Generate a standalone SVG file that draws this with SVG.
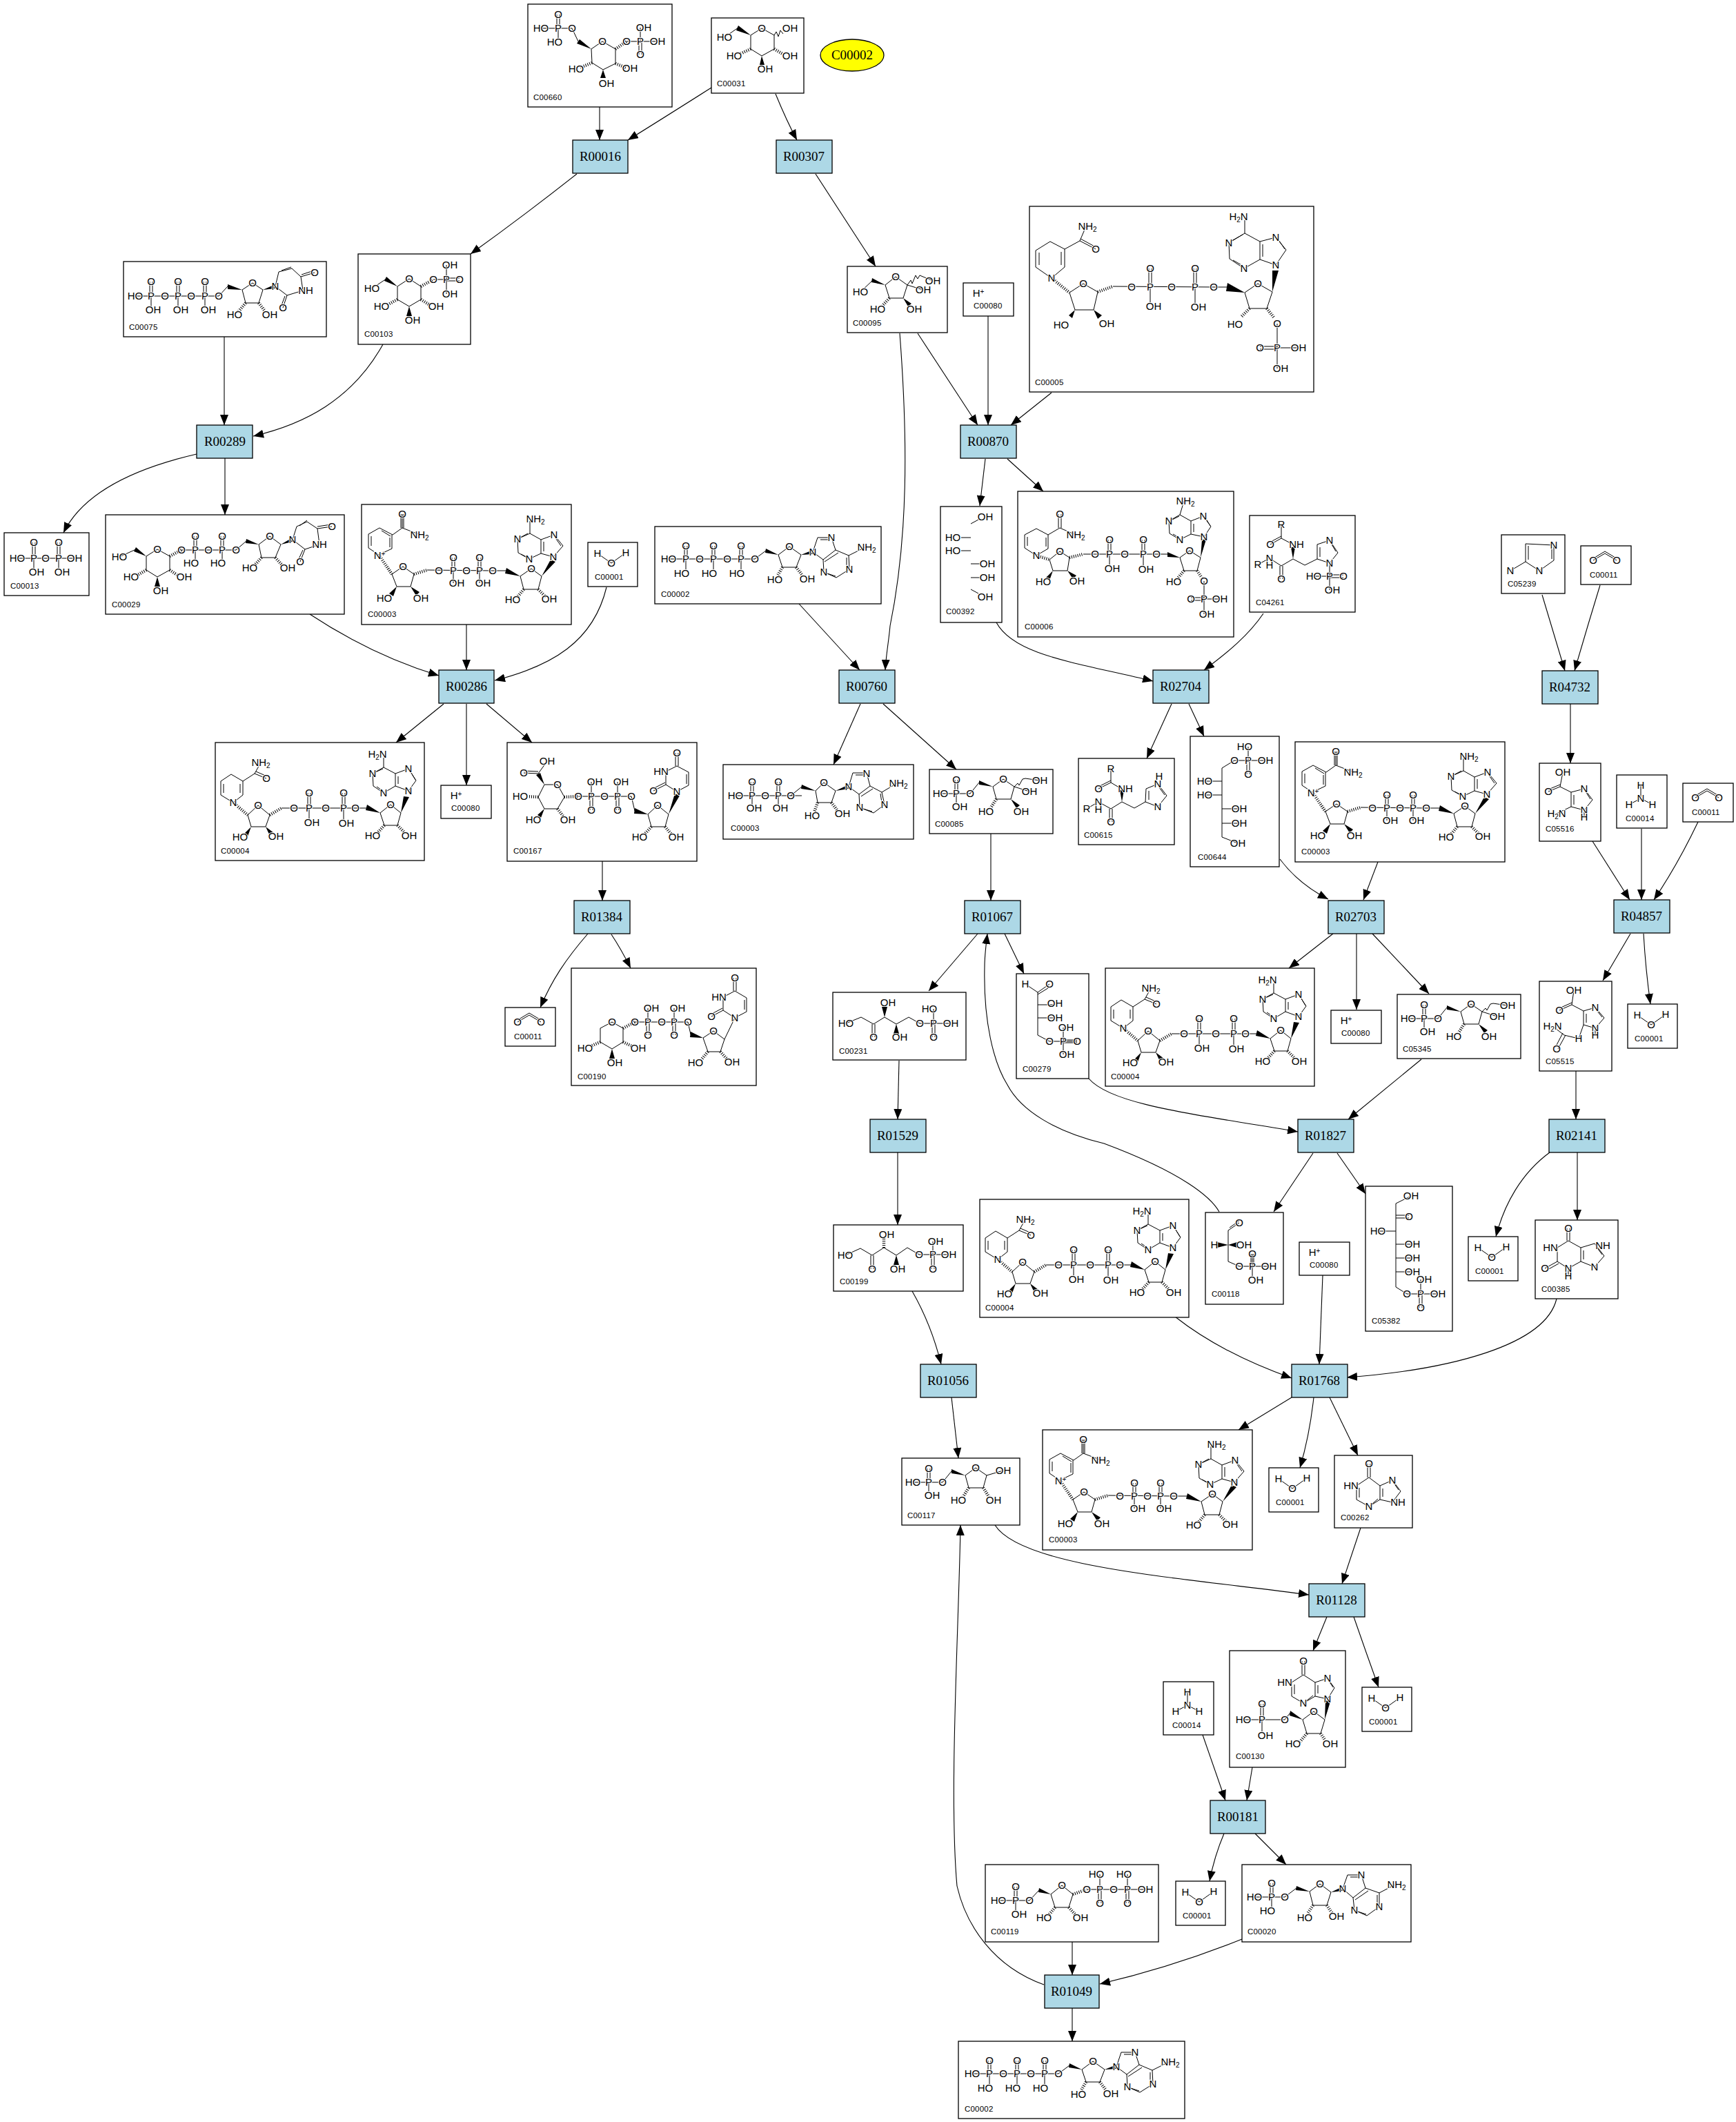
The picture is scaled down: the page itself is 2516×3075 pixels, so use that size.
<svg xmlns="http://www.w3.org/2000/svg" width="2516" height="3075" viewBox="0 0 2516 3075">
<style>
.c{fill:#fff;stroke:#000;stroke-width:1.3}
.r{fill:#add8e6;stroke:#000;stroke-width:1.3}
.rt{font:19px "Liberation Serif",serif;text-anchor:middle;fill:#000}
.b{fill:none;stroke:#000;stroke-width:1}
.w{fill:#000;stroke:none}
.h{fill:none;stroke:#000;stroke-width:4.5;stroke-dasharray:1 2}
.a{font:15px "Liberation Sans",Arial,sans-serif;text-anchor:middle;fill:#000;stroke:#fff;stroke-width:2px;paint-order:stroke}
.l{font:11.5px "Liberation Sans",Arial,sans-serif;fill:#000;letter-spacing:.2px}
.e{fill:none;stroke:#000;stroke-width:1.1;marker-end:url(#ah)}
.s{font-size:10px}
</style>
<defs>
<marker id="ah" markerUnits="userSpaceOnUse" markerWidth="15" markerHeight="12" refX="15" refY="6" orient="auto"><path d="M0 0L15 6L0 12Z" fill="#000"/></marker>
<g id="m1"><rect class="c" width="72" height="64"/><path class="b" d="M14 16L34 30L55 15"/><text class="a" x="14" y="21">H</text><text class="a" x="34" y="35">O</text><text class="a" x="55" y="20">H</text><text class="l" x="10" y="54">C00001</text></g>
<g id="m80"><rect class="c" width="73" height="48"/><text class="a" x="22" y="20">H<tspan class="s" dy="-4">+</tspan></text><text class="l" x="15" y="37">C00080</text></g>
<g id="m11"><rect class="c" width="73" height="56"/><path class="b" d="M18 21L35 11L52 21M20 17L35 8M50 17L35 8"/><text class="a" x="18" y="26">O</text><text class="a" x="52" y="26">O</text><text class="l" x="13" y="46">C00011</text></g>
<g id="m14"><rect class="c" width="73" height="77"/><path class="b" d="M35 15V34L18 43M35 34L52 43"/><text class="a" x="35" y="20">H</text><text class="a" x="35" y="39">N</text><text class="a" x="18" y="48">H</text><text class="a" x="52" y="48">H</text><text class="l" x="13" y="67">C00014</text></g>
<g id="m3"><rect class="c" width="304" height="174"/>
<path class="b" d="M59 14V34M57 14V34M61 14V34M59 34L85 44M59 34L45 44L26 34L10 43V63L25 73L44 64V44M14 46V60M41 48V62M29 38L42 46M44 101L60 90L76 101L71 119H51ZM95 95L190 96M131 77V96M135 77V96M133 96V114M169 77V96M173 77V96M171 96V114M190 96H210M230 104L246 93L261 104L256 123H235ZM278 76L292 60L279 44L260 51V71L278 76M260 71L243 79L227 70L226 50L244 42L260 51M244 42V24M264 54V68M282 50L289 60M231 72L241 77M230 48L241 42"/>
<path class="h" d="M25 73L44 101M76 101L95 95M235 123L226 134M256 123L267 134"/>
<path class="w" d="M51 119L40 129L46 133ZM71 119L79 132L84 127ZM230 104L210 92L208 100ZM261 104L274 80L281 83Z"/>
<text class="a" x="59" y="19">O</text><text class="a" x="84" y="49">NH<tspan class="s" dy="3">2</tspan></text><text class="a" x="26" y="79">N<tspan class="s" dy="-4">+</tspan></text><text class="a" x="60" y="95">O</text><text class="a" x="33" y="141">HO</text><text class="a" x="86" y="141">OH</text><text class="a" x="112" y="101">O</text><text class="a" x="133" y="101">P</text><text class="a" x="133" y="82">O</text><text class="a" x="138" y="119">OH</text><text class="a" x="152" y="101">O</text><text class="a" x="171" y="101">P</text><text class="a" x="171" y="82">O</text><text class="a" x="176" y="119">OH</text><text class="a" x="190" y="101">O</text><text class="a" x="246" y="98">O</text><text class="a" x="219" y="143">HO</text><text class="a" x="272" y="142">OH</text><text class="a" x="278" y="81">N</text><text class="a" x="279" y="49">N</text><text class="a" x="243" y="84">N</text><text class="a" x="226" y="55">N</text><text class="a" x="252" y="26">NH<tspan class="s" dy="3">2</tspan></text><text class="l" x="9" y="163">C00003</text></g>
<g id="m4"><rect class="c" width="303" height="171"/>
<path class="b" d="M66 29L57 45L74 52M59 42L75 49M57 45L40 56L23 46L8 56V76L26 87L40 76V56M12 60V73M36 60V73M47 105L62 91L79 105L73 122H52ZM96 95H203M134 73V95M138 73V95M136 95V112M184 73V95M188 73V95M186 95V112M203 95H219M239 102L254 90L269 102L264 120H245ZM280 70L291 55L280 38L261 45V63L280 70M261 63L244 73L229 63L228 45L244 36L261 45M244 36V22M265 49V60M284 44L290 54M234 64L243 70M232 43L243 38"/>
<path class="h" d="M26 87L47 105M79 105L96 95M245 120L235 131M264 120L275 131"/>
<path class="w" d="M52 122L42 132L47 136ZM73 122L79 135L85 131ZM239 102L220 90L218 98ZM269 102L273 78L281 79Z"/>
<text class="a" x="66" y="34">NH<tspan class="s" dy="3">2</tspan></text><text class="a" x="74" y="57">O</text><text class="a" x="26" y="92">N</text><text class="a" x="62" y="96">O</text><text class="a" x="36" y="142">HO</text><text class="a" x="88" y="141">OH</text><text class="a" x="114" y="100">O</text><text class="a" x="136" y="100">P</text><text class="a" x="136" y="78">O</text><text class="a" x="140" y="121">OH</text><text class="a" x="160" y="100">O</text><text class="a" x="186" y="100">P</text><text class="a" x="186" y="78">O</text><text class="a" x="190" y="122">OH</text><text class="a" x="203" y="100">O</text><text class="a" x="254" y="95">O</text><text class="a" x="228" y="140">HO</text><text class="a" x="281" y="140">OH</text><text class="a" x="280" y="75">N</text><text class="a" x="280" y="43">N</text><text class="a" x="244" y="78">N</text><text class="a" x="228" y="50">N</text><text class="a" x="235" y="22">H<tspan class="s" dy="3">2</tspan><tspan dy="-3">N</tspan></text><text class="l" x="8" y="161">C00004</text></g>
</defs>
<g id="connectors">
<path class="e" d="M869 155V203"/>
<path class="e" d="M1031 127Q960 172 910 203"/>
<path class="e" d="M1124 136Q1140 175 1155 203"/>
<path class="e" d="M836 252Q760 312 682 368"/>
<path class="e" d="M1182 252L1269 386"/>
<path class="e" d="M325 488V616"/>
<path class="e" d="M555 499C510 580 440 615 367 632"/>
<path class="e" d="M285 658C190 680 120 715 92 772"/>
<path class="e" d="M326 664V746"/>
<path class="e" d="M449 890Q540 950 636 979"/>
<path class="e" d="M676 905V971"/>
<path class="e" d="M879 851C860 930 800 965 717 986"/>
<path class="e" d="M643 1020L574 1076"/>
<path class="e" d="M676 1020V1138"/>
<path class="e" d="M705 1020L771 1076"/>
<path class="e" d="M873 1248V1305"/>
<path class="e" d="M852 1353C820 1390 800 1420 783 1460"/>
<path class="e" d="M886 1354Q900 1375 914 1403"/>
<path class="e" d="M1330 483L1417 616"/>
<path class="e" d="M1432 458V616"/>
<path class="e" d="M1524 569L1465 616"/>
<path class="e" d="M1304 483C1316 640 1316 780 1290 907C1288 930 1284 950 1283 971"/>
<path class="e" d="M1428 665L1420 733"/>
<path class="e" d="M1460 665L1512 712"/>
<path class="e" d="M1444 902C1470 950 1560 960 1671 987"/>
<path class="e" d="M1831 889C1810 920 1780 945 1745 971"/>
<path class="e" d="M1158 875L1246 971"/>
<path class="e" d="M1247 1020L1208 1108"/>
<path class="e" d="M1280 1020L1386 1115"/>
<path class="e" d="M1436 1208V1305"/>
<path class="e" d="M1417 1353L1346 1436"/>
<path class="e" d="M1456 1353L1484 1411"/>
<path class="e" d="M1767 1756C1755 1735 1715 1700 1600 1657C1530 1640 1480 1610 1460 1572C1440 1540 1425 1480 1427 1400C1427 1385 1429 1370 1431 1353"/>
<path class="e" d="M1303 1537L1301 1622"/>
<path class="e" d="M1301 1670V1775"/>
<path class="e" d="M1322 1871Q1350 1920 1364 1977"/>
<path class="e" d="M1379 2025L1389 2113"/>
<path class="e" d="M1442 2210C1480 2270 1700 2285 1897 2311"/>
<path class="e" d="M1513 2876C1440 2850 1400 2790 1387 2733C1375 2600 1390 2350 1392 2210"/>
<path class="e" d="M1855 1245C1870 1265 1890 1285 1925 1303"/>
<path class="e" d="M1997 1249L1976 1304"/>
<path class="e" d="M1932 1353L1868 1403"/>
<path class="e" d="M1966 1353V1463"/>
<path class="e" d="M1989 1353L2071 1440"/>
<path class="e" d="M2060 1535L1954 1622"/>
<path class="e" d="M1578 1563C1610 1600 1720 1613 1881 1640"/>
<path class="e" d="M1903 1671L1846 1756"/>
<path class="e" d="M1938 1671L1979 1730"/>
<path class="e" d="M2235 862L2268 972"/>
<path class="e" d="M2319 848Q2300 910 2282 972"/>
<path class="e" d="M2276 1020V1106"/>
<path class="e" d="M2308 1219L2362 1304"/>
<path class="e" d="M2379 1201V1304"/>
<path class="e" d="M2461 1191C2440 1235 2420 1270 2397 1304"/>
<path class="e" d="M2363 1353L2323 1421"/>
<path class="e" d="M2382 1353Q2385 1405 2392 1455"/>
<path class="e" d="M2284 1552V1622"/>
<path class="e" d="M2246 1670C2205 1700 2180 1745 2168 1792"/>
<path class="e" d="M2286 1670V1768"/>
<path class="e" d="M2256 1882C2240 1950 2100 1985 1952 1996"/>
<path class="e" d="M1917 1848Q1914 1920 1912 1977"/>
<path class="e" d="M1703 1908C1750 1945 1810 1975 1872 1997"/>
<path class="e" d="M1872 2025L1795 2072"/>
<path class="e" d="M1904 2025Q1898 2080 1884 2127"/>
<path class="e" d="M1927 2025L1968 2109"/>
<path class="e" d="M1972 2214L1945 2295"/>
<path class="e" d="M1923 2343L1903 2392"/>
<path class="e" d="M1962 2343Q1980 2395 1998 2445"/>
<path class="e" d="M1815 2561L1807 2609"/>
<path class="e" d="M1743 2514L1776 2609"/>
<path class="e" d="M1774 2657Q1760 2690 1753 2726"/>
<path class="e" d="M1819 2657L1864 2702"/>
<path class="e" d="M1554 2814V2862"/>
<path class="e" d="M1800 2810Q1700 2850 1594 2875"/>
<path class="e" d="M1554 2910V2958"/>
<path class="e" d="M1698 1020L1662 1099"/>
<path class="e" d="M1723 1020L1745 1067"/>
</g>
<g id="R00016"><rect class="r" x="830" y="203" width="80" height="48"/><text class="rt" x="870" y="233">R00016</text></g>
<g id="R00307"><rect class="r" x="1125" y="203" width="81" height="48"/><text class="rt" x="1165" y="233">R00307</text></g>
<g id="R00289"><rect class="r" x="285" y="616" width="81" height="48"/><text class="rt" x="326" y="646">R00289</text></g>
<g id="R00870"><rect class="r" x="1392" y="616" width="81" height="48"/><text class="rt" x="1432" y="646">R00870</text></g>
<g id="R00286"><rect class="r" x="636" y="971" width="80" height="48"/><text class="rt" x="676" y="1001">R00286</text></g>
<g id="R00760"><rect class="r" x="1216" y="971" width="81" height="48"/><text class="rt" x="1256" y="1001">R00760</text></g>
<g id="R02704"><rect class="r" x="1671" y="971" width="81" height="48"/><text class="rt" x="1711" y="1001">R02704</text></g>
<g id="R04732"><rect class="r" x="2235" y="972" width="81" height="48"/><text class="rt" x="2275" y="1002">R04732</text></g>
<g id="R01384"><rect class="r" x="832" y="1305" width="81" height="48"/><text class="rt" x="872" y="1335">R01384</text></g>
<g id="R01067"><rect class="r" x="1398" y="1305" width="81" height="48"/><text class="rt" x="1438" y="1335">R01067</text></g>
<g id="R02703"><rect class="r" x="1925" y="1305" width="81" height="48"/><text class="rt" x="1965" y="1335">R02703</text></g>
<g id="R04857"><rect class="r" x="2339" y="1304" width="81" height="48"/><text class="rt" x="2379" y="1334">R04857</text></g>
<g id="R01529"><rect class="r" x="1261" y="1622" width="81" height="48"/><text class="rt" x="1301" y="1652">R01529</text></g>
<g id="R01827"><rect class="r" x="1881" y="1622" width="81" height="48"/><text class="rt" x="1921" y="1652">R01827</text></g>
<g id="R02141"><rect class="r" x="2245" y="1622" width="81" height="48"/><text class="rt" x="2285" y="1652">R02141</text></g>
<g id="R01056"><rect class="r" x="1334" y="1977" width="81" height="48"/><text class="rt" x="1374" y="2007">R01056</text></g>
<g id="R01768"><rect class="r" x="1872" y="1977" width="81" height="48"/><text class="rt" x="1912" y="2007">R01768</text></g>
<g id="R01128"><rect class="r" x="1897" y="2295" width="81" height="48"/><text class="rt" x="1937" y="2325">R01128</text></g>
<g id="R00181"><rect class="r" x="1754" y="2609" width="80" height="48"/><text class="rt" x="1794" y="2639">R00181</text></g>
<g id="R01049"><rect class="r" x="1514" y="2862" width="79" height="48"/><text class="rt" x="1553" y="2892">R01049</text></g>
<g id="C00002-target"><ellipse cx="1235" cy="80" rx="46" ry="23" fill="#ff0" stroke="#000" stroke-width="1.3"/><text class="rt" x="1235" y="86">C00002</text></g>

<g id="C00660" transform="translate(765,6)"><rect class="c" width="209" height="149"/>
<path class="b" d="M42 15V35M46 15V35M19 35H64M44 35V52M64 35L73 54M92 65L108 54L127 65V86L109 95L93 85ZM143 54H188M163 54V34M161 54V73M165 54V73"/>
<path class="h" d="M127 65L143 54M93 85L76 92M127 86L142 92"/><path class="w" d="M92 65L75 51L71 57ZM109 95L105 107L113 107Z"/>
<text class="a" x="44" y="20">O</text><text class="a" x="44" y="40">P</text><text class="a" x="19" y="40">HO</text><text class="a" x="64" y="40">O</text><text class="a" x="39" y="60">HO</text><text class="a" x="108" y="59">O</text><text class="a" x="143" y="59">O</text><text class="a" x="163" y="59">P</text><text class="a" x="168" y="39">OH</text><text class="a" x="188" y="59">OH</text><text class="a" x="163" y="78">O</text><text class="a" x="70" y="99">HO</text><text class="a" x="148" y="98">OH</text><text class="a" x="114" y="120">OH</text><text class="l" x="8" y="139">C00660</text></g>

<g id="C00031" transform="translate(1031,26)"><rect class="c" width="134" height="109"/>
<path class="b" d="M19 28L39 14M57 25L73 15L91 25V45L73 55L57 45ZM91 25L94 20L97 27L100 18L104 23"/>
<path class="h" d="M57 45L42 52M91 45L103 52"/><path class="w" d="M57 25L39 11L36 18ZM73 55L70 68L77 68Z"/>
<text class="a" x="19" y="33">HO</text><text class="a" x="73" y="20">O</text><text class="a" x="114" y="20">OH</text><text class="a" x="33" y="60">HO</text><text class="a" x="114" y="60">OH</text><text class="a" x="78" y="79">OH</text><text class="l" x="8" y="99">C00031</text></g>

<g id="C00075" transform="translate(179,379)"><rect class="c" width="294" height="109"/>
<path class="b" d="M17 50H138M38 29V50M42 29V50M40 50V65M77 29V50M81 29V50M79 50V65M116 29V50M120 29V50M118 50V65M138 50L151 36M172 41L187 31L202 41L196 60H177ZM220 36L225 15L244 10L257 22L260 42L237 49L220 36M229 13L243 8M257 22L277 16M258 19L276 13M237 49L231 67M234 50L228 66"/>
<path class="h" d="M177 60L167 72M196 60L205 72"/><path class="w" d="M172 41L151 33L151 40ZM202 41L220 33L220 39Z"/>
<text class="a" x="17" y="55">HO</text><text class="a" x="40" y="55">P</text><text class="a" x="40" y="34">O</text><text class="a" x="43" y="75">OH</text><text class="a" x="60" y="55">O</text><text class="a" x="79" y="55">P</text><text class="a" x="79" y="34">O</text><text class="a" x="83" y="75">OH</text><text class="a" x="98" y="55">O</text><text class="a" x="118" y="55">P</text><text class="a" x="118" y="34">O</text><text class="a" x="123" y="75">OH</text><text class="a" x="138" y="55">O</text><text class="a" x="187" y="36">O</text><text class="a" x="161" y="82">HO</text><text class="a" x="212" y="82">OH</text><text class="a" x="220" y="41">N</text><text class="a" x="277" y="21">O</text><text class="a" x="264" y="47">NH</text><text class="a" x="231" y="72">O</text><text class="l" x="8" y="99">C00075</text></g>

<g id="C00103" transform="translate(519,368)"><rect class="c" width="163" height="131"/>
<path class="b" d="M20 50L41 36M57 47L74 36L91 47V66L74 76L57 66ZM109 37H128M128 37V16M128 37V58M128 35H147M128 39H147"/>
<path class="h" d="M91 47L109 37M57 66L42 74M91 66L104 74"/><path class="w" d="M57 47L41 33L38 39ZM74 76L70 90L78 90Z"/>
<text class="a" x="20" y="55">HO</text><text class="a" x="74" y="41">O</text><text class="a" x="34" y="81">HO</text><text class="a" x="113" y="81">OH</text><text class="a" x="79" y="101">OH</text><text class="a" x="109" y="42">O</text><text class="a" x="128" y="42">P</text><text class="a" x="133" y="21">OH</text><text class="a" x="147" y="42">O</text><text class="a" x="133" y="63">OH</text><text class="l" x="9" y="120">C00103</text></g>

<g id="C00095" transform="translate(1228,386)"><rect class="c" width="145" height="96"/>
<path class="b" d="M19 37L37 20M55 27L70 15L87 27L81 46H61ZM87 27L92 20L94 25L99 13L102 18L105 13L124 21M87 27L110 34"/>
<path class="h" d="M61 46L50 58"/><path class="w" d="M55 27L36 17L35 23ZM81 46L88 58L93 54Z"/>
<text class="a" x="19" y="42">HO</text><text class="a" x="70" y="20">O</text><text class="a" x="124" y="26">OH</text><text class="a" x="110" y="39">OH</text><text class="a" x="44" y="67">HO</text><text class="a" x="97" y="67">OH</text><text class="l" x="8" y="86">C00095</text></g>

<g id="C00080-1" transform="translate(1396,410)"><use href="#m80"/></g>

<g id="C00005" transform="translate(1492,299)"><rect class="c" width="412" height="269"/>
<path class="b" d="M82 29L73 50L96 62M74 47L96 59M73 50L51 62L30 51L9 64V88L32 104L51 88V62M14 67V85M46 66V85M58 125L78 112L99 124L93 150H66ZM121 116L267 117M173 117V90M177 117V90M175 117V140M238 117V90M242 117V90M240 117V140M267 117H287M312 125L331 112L352 124L344 148H319ZM359 170V235M359 205H390M359 203H334M359 207H334M357 85L372 63L357 45L334 51V77L357 85M334 77L311 90L290 76L289 53L312 39L334 51M312 39V20M338 55V73M362 50L370 62M295 78L309 86M293 50L309 41"/>
<path class="h" d="M32 104L58 125M99 124L121 116M319 148L307 160M344 148L355 162"/>
<path class="w" d="M66 150L57 158L62 162ZM93 150L99 163L105 158ZM312 125L287 111L285 123ZM352 124L352 93L361 93Z"/>
<text class="a" x="84" y="34">NH<tspan class="s" dy="3">2</tspan></text><text class="a" x="96" y="67">O</text><text class="a" x="32" y="109">N</text><text class="a" x="78" y="117">O</text><text class="a" x="46" y="177">HO</text><text class="a" x="112" y="175">OH</text><text class="a" x="148" y="122">O</text><text class="a" x="175" y="122">P</text><text class="a" x="175" y="95">O</text><text class="a" x="180" y="150">OH</text><text class="a" x="206" y="122">O</text><text class="a" x="240" y="122">P</text><text class="a" x="240" y="95">O</text><text class="a" x="245" y="151">OH</text><text class="a" x="267" y="122">O</text><text class="a" x="331" y="117">O</text><text class="a" x="298" y="176">HO</text><text class="a" x="359" y="175">O</text><text class="a" x="359" y="210">P</text><text class="a" x="334" y="210">O</text><text class="a" x="390" y="210">OH</text><text class="a" x="364" y="240">OH</text><text class="a" x="357" y="90">N</text><text class="a" x="357" y="50">N</text><text class="a" x="311" y="95">N</text><text class="a" x="289" y="58">N</text><text class="a" x="303" y="20">H<tspan class="s" dy="3">2</tspan><tspan dy="-3">N</tspan></text><text class="l" x="8" y="259">C00005</text></g>

<g id="C00013" transform="translate(6,772)"><rect class="c" width="123" height="91"/>
<path class="b" d="M19 37H102M41 14V37M45 14V37M43 37V52M77 14V37M81 14V37M79 37V52"/>
<text class="a" x="19" y="42">HO</text><text class="a" x="43" y="42">P</text><text class="a" x="43" y="19">O</text><text class="a" x="47" y="62">OH</text><text class="a" x="60" y="42">O</text><text class="a" x="79" y="42">P</text><text class="a" x="79" y="19">O</text><text class="a" x="102" y="42">OH</text><text class="a" x="84" y="62">OH</text><text class="l" x="9" y="81">C00013</text></g>

<g id="C00029" transform="translate(153,746)"><rect class="c" width="346" height="144"/>
<path class="b" d="M20 61L44 50M59 60L75 50L93 60V80L75 90L59 80ZM110 51H189M128 31V51M132 31V51M130 51V65M167 31V51M171 31V51M169 51V65M189 51L204 38M222 43L238 31L254 43L246 62H226ZM271 36L277 17L292 10L307 20L310 43L289 50L271 36M281 16L292 8M307 20L328 17M307 17L327 14M289 50L282 68M286 51L279 66"/>
<path class="h" d="M93 60L110 51M59 80L45 88M93 80L105 88M226 62L216 73M246 62L256 73"/>
<path class="w" d="M59 60L44 47L41 53ZM75 90L71 104L79 104ZM222 43L204 35L203 41ZM254 43L271 33L271 39Z"/>
<text class="a" x="20" y="66">HO</text><text class="a" x="75" y="55">O</text><text class="a" x="37" y="95">HO</text><text class="a" x="114" y="95">OH</text><text class="a" x="80" y="115">OH</text><text class="a" x="110" y="56">O</text><text class="a" x="130" y="56">P</text><text class="a" x="130" y="36">O</text><text class="a" x="124" y="75">HO</text><text class="a" x="149" y="56">O</text><text class="a" x="169" y="56">P</text><text class="a" x="169" y="36">O</text><text class="a" x="163" y="75">HO</text><text class="a" x="189" y="56">O</text><text class="a" x="238" y="36">O</text><text class="a" x="209" y="82">HO</text><text class="a" x="264" y="82">OH</text><text class="a" x="271" y="41">N</text><text class="a" x="328" y="22">O</text><text class="a" x="310" y="48">NH</text><text class="a" x="282" y="73">O</text><text class="l" x="9" y="134">C00029</text></g>

<g id="C00003-1" transform="translate(524,731)"><use href="#m3"/></g>
<g id="C00001-1" transform="translate(852,786)"><use href="#m1"/></g>
<g id="C00004-1" transform="translate(312,1076)"><use href="#m4"/></g>
<g id="C00080-2" transform="translate(639,1138)"><use href="#m80"/></g>

<g id="C00167" transform="translate(735,1076)"><rect class="c" width="275" height="172"/>
<path class="b" d="M58 27L45 45L24 44M45 42L24 41M54 61L73 61L83 79L73 96H54L45 79ZM103 78H180M120 78V98M124 78V98M122 78V57M158 78V98M162 78V98M160 78V57M180 78L185 99M204 104L218 91L234 104L229 122H209ZM246 71L230 61L212 70M229 58L211 67M230 61V42M230 42L246 34L263 43V62L246 71M244 34V15M248 34V15M260 46V60"/>
<path class="h" d="M83 79L103 78M45 79L28 78M73 96L82 108M209 122L199 133M229 122L238 133"/>
<path class="w" d="M54 61L42 47L48 44ZM54 96L44 105L49 109ZM204 104L185 95L184 103ZM234 104L243 74L250 77Z"/>
<text class="a" x="58" y="32">OH</text><text class="a" x="24" y="49">O</text><text class="a" x="73" y="66">O</text><text class="a" x="19" y="83">HO</text><text class="a" x="38" y="117">HO</text><text class="a" x="88" y="117">OH</text><text class="a" x="103" y="83">O</text><text class="a" x="122" y="83">P</text><text class="a" x="127" y="62">OH</text><text class="a" x="122" y="103">O</text><text class="a" x="141" y="83">O</text><text class="a" x="160" y="83">P</text><text class="a" x="165" y="62">OH</text><text class="a" x="160" y="103">O</text><text class="a" x="180" y="83">O</text><text class="a" x="218" y="96">O</text><text class="a" x="192" y="142">HO</text><text class="a" x="245" y="142">OH</text><text class="a" x="246" y="76">N</text><text class="a" x="212" y="75">O</text><text class="a" x="223" y="47">HN</text><text class="a" x="246" y="20">O</text><text class="l" x="9" y="161">C00167</text></g>

<g id="C00002" transform="translate(949,763)"><rect class="c" width="328" height="112"/>
<path class="b" d="M20 47H145M43 28V47M47 28V47M45 47V63M83 28V47M87 28V47M85 47V63M123 28V47M127 28V47M125 47V63M145 47L161 35M179 41L195 29L212 41L205 59H185ZM229 37L236 16H256L262 34L244 48L229 37M244 48L245 66L263 74L282 62L281 42L262 34M240 19H254M266 38L246 51M250 68L262 72M278 59V45M281 42L305 30"/>
<path class="h" d="M185 59L178 71M205 59L214 71"/><path class="w" d="M179 41L161 32L160 38ZM212 41L229 34L229 40Z"/>
<text class="a" x="20" y="52">HO</text><text class="a" x="45" y="52">P</text><text class="a" x="45" y="33">O</text><text class="a" x="39" y="73">HO</text><text class="a" x="65" y="52">O</text><text class="a" x="85" y="52">P</text><text class="a" x="85" y="33">O</text><text class="a" x="79" y="73">HO</text><text class="a" x="105" y="52">O</text><text class="a" x="125" y="52">P</text><text class="a" x="125" y="33">O</text><text class="a" x="119" y="73">HO</text><text class="a" x="145" y="52">O</text><text class="a" x="195" y="34">O</text><text class="a" x="174" y="82">HO</text><text class="a" x="221" y="81">OH</text><text class="a" x="229" y="42">N</text><text class="a" x="256" y="21">N</text><text class="a" x="245" y="71">N</text><text class="a" x="282" y="67">N</text><text class="a" x="307" y="35">NH<tspan class="s" dy="3">2</tspan></text><text class="l" x="9" y="102">C00002</text></g>

<g id="C00392" transform="translate(1363,734)"><rect class="c" width="89" height="168"/>
<path class="b" d="M44 25L55 19M30 45H44M30 64H44M44 83H57M44 103H57M44 120L55 126"/>
<text class="a" x="65" y="20">OH</text><text class="a" x="18" y="50">HO</text><text class="a" x="18" y="69">HO</text><text class="a" x="68" y="88">OH</text><text class="a" x="68" y="108">OH</text><text class="a" x="65" y="136">OH</text><text class="l" x="8" y="156">C00392</text></g>

<g id="C00006" transform="translate(1475,712)"><rect class="c" width="313" height="211"/>
<path class="b" d="M59 33V53M63 33V53M61 53L84 63M61 53L44 63L27 54L10 63V82L27 93L44 83V63M14 66V79M41 67V80M46 99L61 87L75 96L72 115H51ZM95 91H217M131 70V91M135 70V91M133 91V108M180 70V91M184 70V91M182 91V108M235 96L249 86L265 96L260 115H241ZM270 130V178M270 156H293M270 154H251M270 158H251M270 66L280 51L269 36L251 43V62L270 66M251 62L235 70L220 61L219 43L235 34L251 43M235 34L241 14M255 47V59M273 40L279 50M225 62L234 67M224 41L234 36"/>
<path class="h" d="M27 93L46 99M75 96L95 91M241 115L231 127M260 115L268 127"/>
<path class="w" d="M51 115L41 125L46 129ZM72 115L80 127L85 122ZM235 96L217 88L217 95ZM265 96L267 70L273 70Z"/>
<text class="a" x="61" y="38">O</text><text class="a" x="84" y="68">NH<tspan class="s" dy="3">2</tspan></text><text class="a" x="27" y="98">N</text><text class="a" x="61" y="92">O</text><text class="a" x="37" y="136">HO</text><text class="a" x="86" y="135">OH</text><text class="a" x="112" y="96">O</text><text class="a" x="133" y="96">P</text><text class="a" x="133" y="75">O</text><text class="a" x="137" y="117">OH</text><text class="a" x="155" y="96">O</text><text class="a" x="182" y="96">P</text><text class="a" x="182" y="75">O</text><text class="a" x="186" y="118">OH</text><text class="a" x="201" y="96">O</text><text class="a" x="249" y="91">O</text><text class="a" x="226" y="136">HO</text><text class="a" x="270" y="135">O</text><text class="a" x="270" y="161">P</text><text class="a" x="251" y="161">O</text><text class="a" x="293" y="161">OH</text><text class="a" x="274" y="183">OH</text><text class="a" x="270" y="71">N</text><text class="a" x="269" y="41">N</text><text class="a" x="235" y="75">N</text><text class="a" x="219" y="48">N</text><text class="a" x="243" y="19">NH<tspan class="s" dy="3">2</tspan></text><text class="l" x="10" y="200">C00006</text></g>

<g id="C04261" transform="translate(1811,747)"><rect class="c" width="153" height="140"/>
<path class="b" d="M46 13V33L30 42M46 30L29 39M46 33L63 42M63 63L46 73M44 73V92M48 73V92M46 73L29 62M29 62L12 71M63 63L80 72L98 63V42L116 36L128 54L116 69L98 63M102 46V60M118 40L125 52M116 69V108M93 88H116M116 86H136M116 90H136"/>
<path class="w" d="M63 63L60 46L66 46Z"/>
<text class="a" x="46" y="18">R</text><text class="a" x="30" y="47">O</text><text class="a" x="68" y="47">NH</text><text class="a" x="46" y="97">O</text><text class="a" x="29" y="67">N</text><text class="a" x="29" y="77">H</text><text class="a" x="12" y="76">R</text><text class="a" x="116" y="41">N</text><text class="a" x="116" y="74">N</text><text class="a" x="116" y="93">P</text><text class="a" x="93" y="93">HO</text><text class="a" x="136" y="93">O</text><text class="a" x="120" y="113">OH</text><text class="l" x="9" y="130">C04261</text></g>

<g id="C05239" transform="translate(2176,775)"><rect class="c" width="92" height="85"/>
<path class="b" d="M13 52L35 39V13L76 15V37L55 52L35 39M39 36V16M73 18V35"/>
<text class="a" x="13" y="57">N</text><text class="a" x="76" y="20">N</text><text class="a" x="55" y="57">N</text><text class="l" x="9" y="75">C05239</text></g>
<g id="C00011-1" transform="translate(2291,791)"><use href="#m11"/></g>

<g id="C00008" transform="translate(1048,1108)"><rect class="c" width="276" height="108"/>
<path class="b" d="M18 45H114M40 25V45M44 25V45M42 45V58M78 25V45M82 25V45M80 45V58M98 45L114 32M134 38L146 26L163 38L157 55H137ZM182 32L188 12H208L213 31L197 43L182 32M197 43L198 62L218 70L234 58L230 40L213 31M192 15H206M217 35L200 46M203 64L216 68M230 55L228 42M230 40L252 27"/>
<path class="h" d="M137 55L132 69M157 55L166 67"/><path class="w" d="M134 38L114 29L113 35ZM163 38L182 29L182 35Z"/>
<text class="a" x="18" y="50">HO</text><text class="a" x="42" y="50">P</text><text class="a" x="42" y="30">O</text><text class="a" x="45" y="68">OH</text><text class="a" x="61" y="50">O</text><text class="a" x="80" y="50">P</text><text class="a" x="80" y="30">O</text><text class="a" x="83" y="68">OH</text><text class="a" x="98" y="50">O</text><text class="a" x="146" y="31">O</text><text class="a" x="129" y="79">HO</text><text class="a" x="173" y="76">OH</text><text class="a" x="182" y="37">N</text><text class="a" x="208" y="18">N</text><text class="a" x="198" y="67">N</text><text class="a" x="234" y="63">N</text><text class="a" x="254" y="32">NH<tspan class="s" dy="3">2</tspan></text><text class="l" x="11" y="96">C00003</text></g>

<g id="C00085" transform="translate(1347,1115)"><rect class="c" width="179" height="93"/>
<path class="b" d="M37 15V35M41 15V35M16 35H59M39 35V49M59 35L72 19M92 25L107 14L123 25L118 43H97ZM123 25L128 20L130 23L135 14L139 13L160 16M123 25L145 32"/>
<path class="h" d="M97 43L88 57"/><path class="w" d="M92 25L72 16L72 22ZM118 43L126 56L131 52Z"/>
<text class="a" x="39" y="20">O</text><text class="a" x="39" y="40">P</text><text class="a" x="16" y="40">HO</text><text class="a" x="44" y="59">OH</text><text class="a" x="59" y="40">O</text><text class="a" x="107" y="19">O</text><text class="a" x="160" y="21">OH</text><text class="a" x="145" y="37">OH</text><text class="a" x="82" y="66">HO</text><text class="a" x="133" y="66">OH</text><text class="l" x="8" y="83">C00085</text></g>

<g id="C00615" transform="translate(1563,1099)"><rect class="c" width="139" height="125"/>
<path class="b" d="M47 15V35L29 44M47 32L29 41M47 35L62 44M63 63L47 73M45 73V92M49 73V92M47 73L29 63L12 73M63 63L81 72L97 63L98 44L115 37L128 54L115 70L97 63M102 47V60M117 42L125 53"/>
<path class="w" d="M63 63L60 46L66 46Z"/>
<text class="a" x="47" y="20">R</text><text class="a" x="29" y="49">O</text><text class="a" x="68" y="49">NH</text><text class="a" x="47" y="97">O</text><text class="a" x="29" y="68">N</text><text class="a" x="29" y="79">H</text><text class="a" x="12" y="78">R</text><text class="a" x="115" y="42">N</text><text class="a" x="117" y="31">H</text><text class="a" x="115" y="75">N</text><text class="l" x="8" y="115">C00615</text></g>

<g id="C00644" transform="translate(1725,1067)"><rect class="c" width="129" height="189"/>
<path class="b" d="M64 35H109M84 35V15M82 35V55M86 35V55M64 35L46 46V146L69 155M21 65H46M21 85H46M46 105H71M46 126H71"/>
<text class="a" x="79" y="20">HO</text><text class="a" x="84" y="40">P</text><text class="a" x="64" y="40">O</text><text class="a" x="109" y="40">OH</text><text class="a" x="84" y="60">O</text><text class="a" x="21" y="70">HO</text><text class="a" x="21" y="90">HO</text><text class="a" x="71" y="110">OH</text><text class="a" x="71" y="131">OH</text><text class="a" x="69" y="160">OH</text><text class="l" x="11" y="179">C00644</text></g>

<g id="C00003-2" transform="translate(1877,1075)"><use href="#m3"/></g>
<g id="C05516" transform="translate(2231,1106)"><rect class="c" width="89" height="113"/>
<path class="b" d="M34 13L30 34L13 41M30 31L13 38M30 34L46 42L65 37L77 53L65 68L46 63V42M50 46V60M67 41L74 52M46 63L25 73M65 68V78"/>
<text class="a" x="34" y="18">OH</text><text class="a" x="13" y="46">O</text><text class="a" x="65" y="42">N</text><text class="a" x="65" y="73">N</text><text class="a" x="65" y="83">H</text><text class="a" x="25" y="78">H<tspan class="s" dy="3">2</tspan><tspan dy="-3">N</tspan></text><text class="l" x="9" y="99">C05516</text></g>
<g id="C00014-1" transform="translate(2343,1123)"><use href="#m14"/></g>
<g id="C00011-2" transform="translate(2439,1135)"><use href="#m11"/></g>

<g id="C00011-3" transform="translate(732,1460)"><use href="#m11"/></g>
<g id="C00190" transform="translate(828,1403)"><rect class="c" width="268" height="170"/>
<path class="b" d="M59 78L75 87V107L59 117L42 107V87ZM92 78H169M109 78V97M113 78V97M111 78V58M147 78V97M151 78V97M149 78V58M169 78L173 96M191 101L206 91L222 103L216 121H198ZM237 72L222 103M237 72L220 61L203 70M219 58L202 67M220 61V42M220 42L237 33L254 43V63L237 72M235 33V14M239 33V14M251 46V60"/>
<path class="h" d="M75 87L92 78M42 107L28 113M75 107L88 113M198 121L188 133M216 121L226 132"/>
<path class="w" d="M59 117L55 131L63 131ZM191 101L173 92L172 100Z"/>
<text class="a" x="59" y="83">O</text><text class="a" x="20" y="121">HO</text><text class="a" x="97" y="121">OH</text><text class="a" x="63" y="142">OH</text><text class="a" x="92" y="83">O</text><text class="a" x="111" y="83">P</text><text class="a" x="116" y="63">OH</text><text class="a" x="111" y="102">O</text><text class="a" x="131" y="83">O</text><text class="a" x="149" y="83">P</text><text class="a" x="154" y="63">OH</text><text class="a" x="149" y="102">O</text><text class="a" x="169" y="83">O</text><text class="a" x="206" y="96">O</text><text class="a" x="180" y="142">HO</text><text class="a" x="233" y="141">OH</text><text class="a" x="237" y="77">N</text><text class="a" x="203" y="75">O</text><text class="a" x="214" y="47">HN</text><text class="a" x="237" y="19">O</text><text class="l" x="9" y="161">C00190</text></g>

<g id="C00231" transform="translate(1207,1438)"><rect class="c" width="193" height="98"/>
<path class="b" d="M19 45L41 36L59 46L75 36L92 46L110 36L126 45H171M57 46V65M61 46V65M146 45V24M144 45V65M148 45V65"/>
<path class="w" d="M75 36L71 21L79 21ZM92 46L88 60L96 60Z"/>
<text class="a" x="19" y="50">HO</text><text class="a" x="59" y="70">O</text><text class="a" x="80" y="20">OH</text><text class="a" x="97" y="70">OH</text><text class="a" x="126" y="50">O</text><text class="a" x="146" y="50">P</text><text class="a" x="140" y="29">HO</text><text class="a" x="171" y="50">OH</text><text class="a" x="146" y="70">O</text><text class="l" x="9" y="89">C00231</text></g>

<g id="C00279" transform="translate(1473,1411)"><rect class="c" width="105" height="152"/>
<path class="b" d="M13 15L31 27L48 15M31 30L49 19M31 27V89L48 98H88M31 45H56M31 64H56M68 98V78M68 96H88M68 100H88M68 98V117"/>
<text class="a" x="13" y="20">H</text><text class="a" x="48" y="20">O</text><text class="a" x="56" y="48">OH</text><text class="a" x="56" y="69">OH</text><text class="a" x="48" y="103">O</text><text class="a" x="68" y="103">P</text><text class="a" x="72" y="83">OH</text><text class="a" x="88" y="103">O</text><text class="a" x="73" y="122">OH</text><text class="l" x="9" y="142">C00279</text></g>

<g id="C00004-2" transform="translate(1602,1403)"><use href="#m4"/></g>
<g id="C00080-3" transform="translate(1929,1464)"><use href="#m80"/></g>
<g id="C05345" transform="translate(2025,1441)"><rect class="c" width="179" height="93"/>
<path class="b" d="M37 15V35M41 15V35M16 35H59M39 35V49M59 35L72 19M92 25L107 14L123 25L118 43H97ZM123 25L128 20L130 23L135 14L139 13L160 16M123 25L145 32"/>
<path class="h" d="M97 43L88 57"/><path class="w" d="M92 25L72 16L72 22ZM118 43L126 56L131 52Z"/>
<text class="a" x="39" y="20">O</text><text class="a" x="39" y="40">P</text><text class="a" x="16" y="40">HO</text><text class="a" x="44" y="59">OH</text><text class="a" x="59" y="40">O</text><text class="a" x="107" y="19">O</text><text class="a" x="160" y="21">OH</text><text class="a" x="145" y="37">OH</text><text class="a" x="82" y="66">HO</text><text class="a" x="133" y="66">OH</text><text class="l" x="8" y="83">C05345</text></g>
<g id="C05515" transform="translate(2231,1422)"><rect class="c" width="105" height="130"/>
<path class="b" d="M50 13L47 34L29 42M47 31L29 39M47 34L64 43L81 38L94 53L81 68L64 63V43M68 47V60M83 42L91 52M64 63L57 83L36 78L19 65M34 75L23 96M38 78L27 98M81 68V78"/>
<text class="a" x="50" y="18">OH</text><text class="a" x="29" y="47">O</text><text class="a" x="81" y="43">N</text><text class="a" x="81" y="73">N</text><text class="a" x="81" y="83">H</text><text class="a" x="57" y="88">H</text><text class="a" x="19" y="70">H<tspan class="s" dy="3">2</tspan><tspan dy="-3">N</tspan></text><text class="a" x="25" y="103">O</text><text class="l" x="9" y="120">C05515</text></g>
<g id="C00001-2" transform="translate(2359,1455)"><use href="#m1"/></g>

<g id="C00199" transform="translate(1208,1775)"><rect class="c" width="188" height="96"/>
<path class="b" d="M17 44L39 34L56 44L73 33L91 44L107 33L124 43H167M54 44V64M58 44V64M144 43V24M142 43V64M146 43V64"/>
<path class="h" d="M73 33V20"/><path class="w" d="M91 44L87 58L95 58Z"/>
<text class="a" x="17" y="49">HO</text><text class="a" x="56" y="69">O</text><text class="a" x="77" y="19">OH</text><text class="a" x="93" y="69">OH</text><text class="a" x="124" y="48">O</text><text class="a" x="144" y="48">P</text><text class="a" x="148" y="29">OH</text><text class="a" x="167" y="48">OH</text><text class="a" x="144" y="69">O</text><text class="l" x="9" y="86">C00199</text></g>

<g id="C00118" transform="translate(1747,1757)"><rect class="c" width="113" height="133"/>
<path class="b" d="M49 15L33 26V71L49 78H92M49 12L35 22M68 78V60M68 78V93M66 60V78M70 60V78"/>
<path class="w" d="M33 47L17 43L17 51ZM33 47L46 43L46 51Z"/>
<text class="a" x="49" y="20">O</text><text class="a" x="13" y="52">H</text><text class="a" x="56" y="52">OH</text><text class="a" x="49" y="83">O</text><text class="a" x="68" y="83">P</text><text class="a" x="68" y="65">O</text><text class="a" x="92" y="83">OH</text><text class="a" x="73" y="103">OH</text><text class="l" x="9" y="122">C00118</text></g>
<g id="C00080-4" transform="translate(1883,1800)"><use href="#m80"/></g>
<g id="C05382" transform="translate(1979,1719)"><rect class="c" width="126" height="210"/>
<path class="b" d="M66 14L44 25V146L60 156H105M44 42H63M44 46H63M18 65H44M44 84H68M44 104H68M44 124H68M80 156V135M78 156V176M82 156V176"/>
<text class="a" x="66" y="19">OH</text><text class="a" x="63" y="49">O</text><text class="a" x="18" y="70">HO</text><text class="a" x="68" y="89">OH</text><text class="a" x="68" y="109">OH</text><text class="a" x="68" y="129">OH</text><text class="a" x="60" y="161">O</text><text class="a" x="80" y="161">P</text><text class="a" x="85" y="140">OH</text><text class="a" x="105" y="161">OH</text><text class="a" x="80" y="181">O</text><text class="l" x="9" y="199">C05382</text></g>
<g id="C00001-3" transform="translate(2128,1792)"><use href="#m1"/></g>

<g id="C00385" transform="translate(2225,1768)"><rect class="c" width="120" height="114"/>
<path class="b" d="M46 12V30M50 12V30M48 30L32 40V60L48 70L66 60V40L48 30M32 60L14 70M34 63L16 73M66 40L86 34L100 52L86 68L66 60M70 44V57M88 38L97 50M48 70V80"/>
<text class="a" x="48" y="17">O</text><text class="a" x="22" y="45">HN</text><text class="a" x="14" y="75">O</text><text class="a" x="48" y="75">N</text><text class="a" x="48" y="86">H</text><text class="a" x="98" y="42">NH</text><text class="a" x="86" y="73">N</text><text class="l" x="9" y="104">C00385</text></g>

<g id="C00004-3" transform="translate(1420,1738)"><use href="#m4"/></g>

<g id="C00117" transform="translate(1307,2113)"><rect class="c" width="171" height="97"/>
<path class="b" d="M37 15V35M41 15V35M16 35H59M39 35V49M59 35L72 19M92 25L107 14L123 25L118 43H97ZM123 25L147 18"/>
<path class="h" d="M97 43L88 57M118 43L127 57"/><path class="w" d="M92 25L72 16L72 22Z"/>
<text class="a" x="39" y="20">O</text><text class="a" x="39" y="40">P</text><text class="a" x="16" y="40">HO</text><text class="a" x="44" y="59">OH</text><text class="a" x="59" y="40">O</text><text class="a" x="107" y="19">O</text><text class="a" x="147" y="23">OH</text><text class="a" x="82" y="66">HO</text><text class="a" x="133" y="66">OH</text><text class="l" x="8" y="87">C00117</text></g>

<g id="C00003-3" transform="translate(1511,2072)"><use href="#m3"/></g>
<g id="C00001-4" transform="translate(1839,2127)"><use href="#m1"/></g>
<g id="C00262" transform="translate(1934,2109)"><rect class="c" width="113" height="105"/>
<path class="b" d="M48 12V32M52 12V32M50 32L32 44V64L50 74L66 64V44L50 32M36 47V61M54 71L63 63M66 44L84 36L96 52L84 68L66 64M70 48V60M86 40L93 50"/>
<text class="a" x="50" y="17">O</text><text class="a" x="24" y="49">HN</text><text class="a" x="50" y="79">N</text><text class="a" x="84" y="41">N</text><text class="a" x="92" y="73">NH</text><text class="l" x="9" y="94">C00262</text></g>

<g id="C00130" transform="translate(1782,2392)"><rect class="c" width="168" height="169"/>
<path class="b" d="M105 15V35M109 15V35M107 35L90 46V66L107 76L124 66V46L107 35M94 49V63M111 73L121 65M124 46L142 40L152 54L142 70L124 66M128 50V62M144 44L150 53M20 100H80M45 77V100M49 77V100M47 100V118M80 100L88 90M106 100L122 88L138 100L132 120H112Z"/>
<path class="h" d="M112 120L102 132M132 120L140 132"/><path class="w" d="M106 100L88 87L87 94ZM138 100L139 72L146 74Z"/>
<text class="a" x="107" y="20">O</text><text class="a" x="80" y="51">HN</text><text class="a" x="107" y="81">N</text><text class="a" x="142" y="45">N</text><text class="a" x="142" y="75">N</text><text class="a" x="20" y="105">HO</text><text class="a" x="47" y="105">P</text><text class="a" x="47" y="82">O</text><text class="a" x="52" y="128">OH</text><text class="a" x="80" y="105">O</text><text class="a" x="122" y="93">O</text><text class="a" x="92" y="140">HO</text><text class="a" x="146" y="140">OH</text><text class="l" x="9" y="157">C00130</text></g>
<g id="C00001-5" transform="translate(1974,2445)"><use href="#m1"/></g>
<g id="C00014-2" transform="translate(1686,2437)"><use href="#m14"/></g>

<g id="C00119" transform="translate(1428,2702)"><rect class="c" width="251" height="112"/>
<path class="b" d="M42 32V52M46 32V52M19 52H64M44 52V67M64 52L78 37M95 43L111 30L127 43L121 62H101ZM147 36H232M166 36V14M164 36V56M168 36V56M204 36V56M208 36V56M206 36V14"/>
<path class="h" d="M127 43L147 36M101 62L92 73M121 62L131 73"/><path class="w" d="M95 43L78 34L77 40Z"/>
<text class="a" x="44" y="37">O</text><text class="a" x="44" y="57">P</text><text class="a" x="19" y="57">HO</text><text class="a" x="49" y="77">OH</text><text class="a" x="64" y="57">O</text><text class="a" x="111" y="35">O</text><text class="a" x="85" y="82">HO</text><text class="a" x="138" y="82">OH</text><text class="a" x="147" y="41">O</text><text class="a" x="166" y="41">P</text><text class="a" x="161" y="19">HO</text><text class="a" x="166" y="61">O</text><text class="a" x="186" y="41">O</text><text class="a" x="206" y="41">P</text><text class="a" x="201" y="19">HO</text><text class="a" x="232" y="41">OH</text><text class="a" x="206" y="61">O</text><text class="l" x="8" y="101">C00119</text></g>
<g id="C00001-6" transform="translate(1704,2726)"><use href="#m1"/></g>
<g id="C00020" transform="translate(1800,2702)"><rect class="c" width="245" height="112"/>
<path class="b" d="M41 27V47M45 27V47M18 47H62M43 47V62M62 47L79 34M98 39L113 28L129 40L123 59H103ZM146 35L153 15H173L179 34L161 48L146 35M161 48L163 66L181 74L199 61V41L179 34M157 18H171M183 38L164 51M168 68L180 72M196 58V44M199 41L222 29"/>
<path class="h" d="M103 59L95 71M123 59L131 71"/><path class="w" d="M98 39L79 31L78 37ZM129 40L146 32L146 38Z"/>
<text class="a" x="43" y="32">O</text><text class="a" x="43" y="52">P</text><text class="a" x="18" y="52">HO</text><text class="a" x="37" y="72">HO</text><text class="a" x="62" y="52">O</text><text class="a" x="113" y="33">O</text><text class="a" x="91" y="82">HO</text><text class="a" x="137" y="80">OH</text><text class="a" x="146" y="40">N</text><text class="a" x="173" y="20">N</text><text class="a" x="163" y="71">N</text><text class="a" x="199" y="66">N</text><text class="a" x="224" y="34">NH<tspan class="s" dy="3">2</tspan></text><text class="l" x="8" y="101">C00020</text></g>
<g id="C00002-2" transform="translate(1389,2958)"><rect class="c" width="328" height="112"/>
<path class="b" d="M20 47H145M43 28V47M47 28V47M45 47V63M83 28V47M87 28V47M85 47V63M123 28V47M127 28V47M125 47V63M145 47L161 35M179 41L195 29L212 41L205 59H185ZM229 37L236 16H256L262 34L244 48L229 37M244 48L245 66L263 74L282 62L281 42L262 34M240 19H254M266 38L246 51M250 68L262 72M278 59V45M281 42L305 30"/>
<path class="h" d="M185 59L178 71M205 59L214 71"/><path class="w" d="M179 41L161 32L160 38ZM212 41L229 34L229 40Z"/>
<text class="a" x="20" y="52">HO</text><text class="a" x="45" y="52">P</text><text class="a" x="45" y="33">O</text><text class="a" x="39" y="73">HO</text><text class="a" x="65" y="52">O</text><text class="a" x="85" y="52">P</text><text class="a" x="85" y="33">O</text><text class="a" x="79" y="73">HO</text><text class="a" x="105" y="52">O</text><text class="a" x="125" y="52">P</text><text class="a" x="125" y="33">O</text><text class="a" x="119" y="73">HO</text><text class="a" x="145" y="52">O</text><text class="a" x="195" y="34">O</text><text class="a" x="174" y="82">HO</text><text class="a" x="221" y="81">OH</text><text class="a" x="229" y="42">N</text><text class="a" x="256" y="21">N</text><text class="a" x="245" y="71">N</text><text class="a" x="282" y="67">N</text><text class="a" x="307" y="35">NH<tspan class="s" dy="3">2</tspan></text><text class="l" x="9" y="102">C00002</text></g>
</svg>
